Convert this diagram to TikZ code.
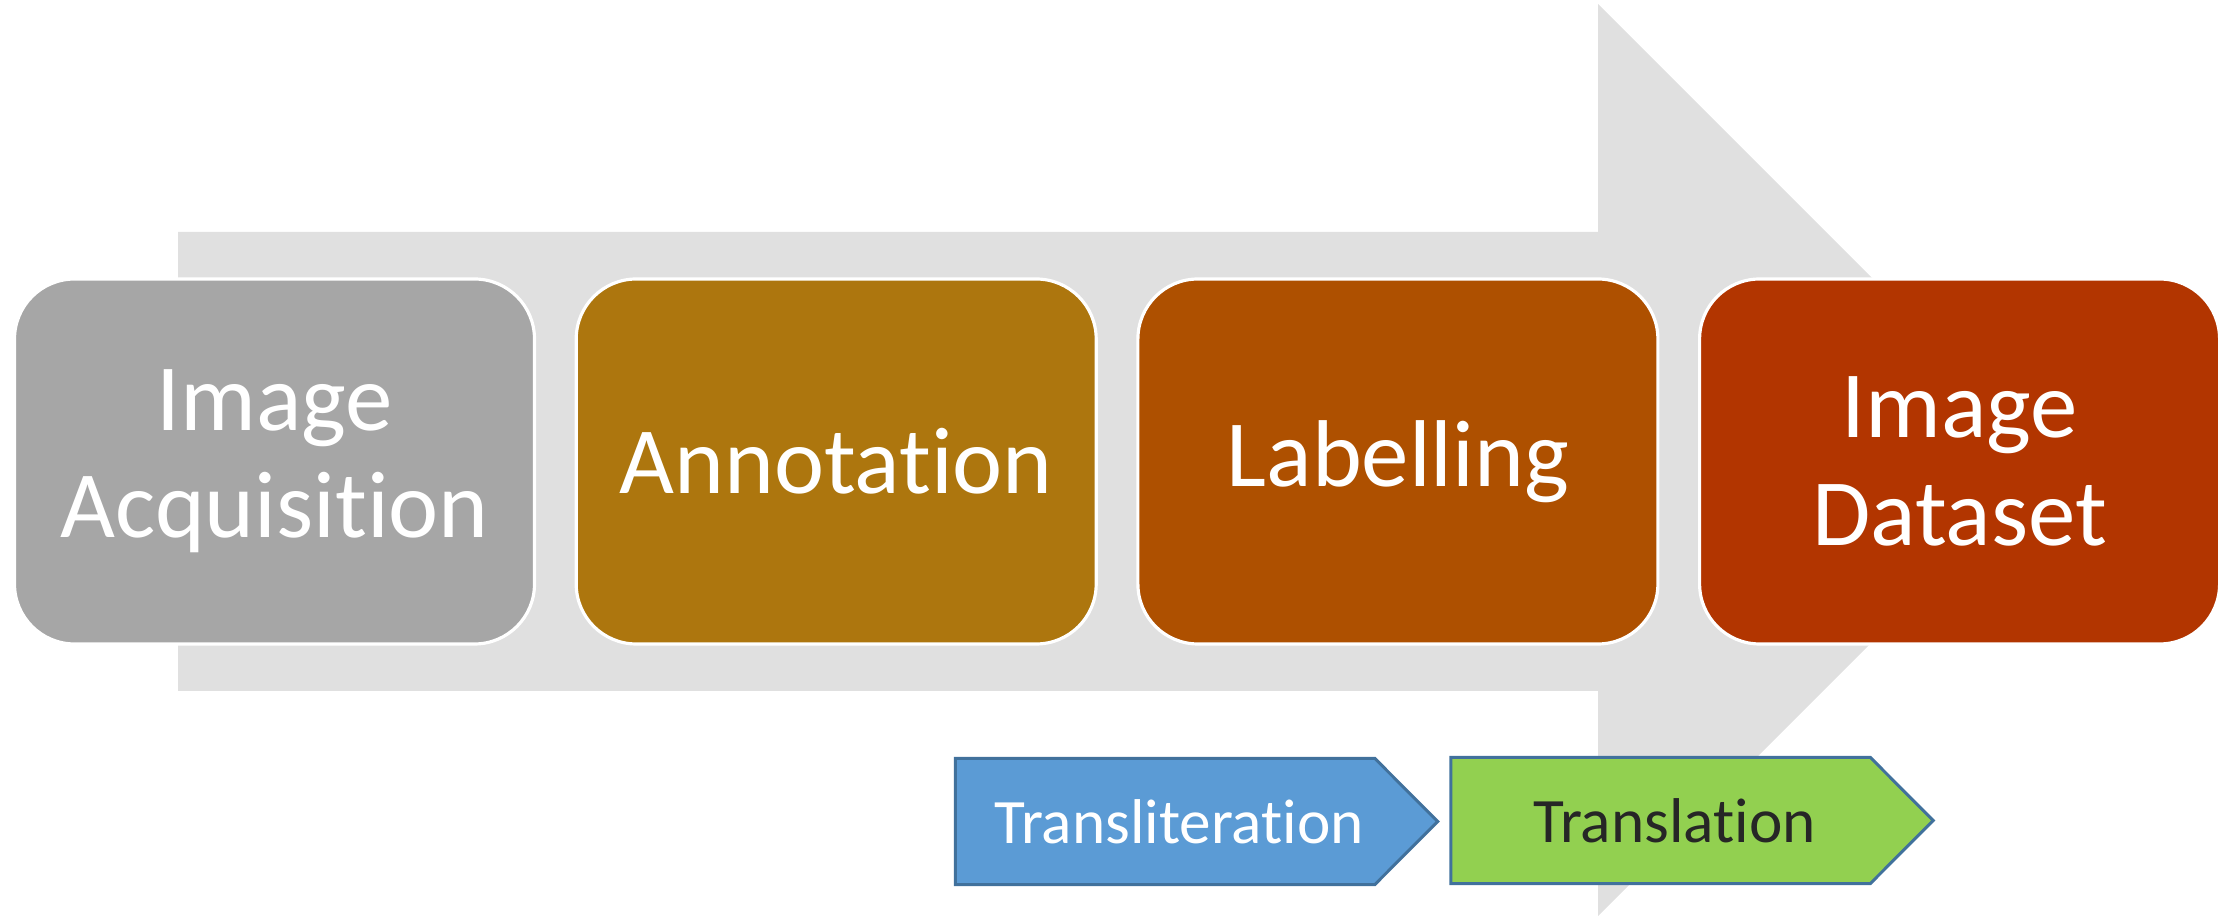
\documentclass[tikz,border=0pt]{standalone}
\usepackage{fontspec}
\setmainfont[Ligatures=NoCommon]{Carlito}
\usetikzlibrary{positioning,backgrounds,calc}

\definecolor{shaftgray}{RGB}{224,224,224}
\definecolor{stepA}{RGB}{166,166,166}
\definecolor{stepB}{RGB}{173,118,14}
\definecolor{stepC}{RGB}{174,80,0}
\definecolor{stepD}{RGB}{178,53,0}
\definecolor{tagblue}{RGB}{91,155,213}
\definecolor{taggreen}{RGB}{146,208,80}
\definecolor{tagedge}{RGB}{65,113,156}

\tikzset{
	stage/.style={rounded corners=0.6cm, draw=white, line width=0.9pt, text=white,
		minimum width=5.2cm, minimum height=3.65cm, align=center,
		font=\fontsize{27}{30.5}\selectfont},
	tag/.style={minimum width=4.18cm, minimum height=1.25cm, inner sep=0pt,
		font=\fontsize{18}{21}\selectfont, execute at begin node=\hspace*{0.28cm}}
}

\begin{document}
\begin{tikzpicture}
	\useasboundingbox (0,0) rectangle (22.33,-9.16);
	
	\foreach [count=\i] \c/\t in {stepA/Image\\Acquisition, stepB/Annotation, stepC/Labelling, stepD/Image\\Dataset}{
		\node [stage, fill=\c] (s\i) at ({2.745 + (\i-1)*5.617},-4.615) {\t};
	}
	
	\node [tag, text=white] (translit) at (11.65,-8.215) {Transliteration};
	\node [tag, text=black!85] (transl) at (16.605,-8.205) {Translation};
	
	\begin{scope}[on background layer]
		% big background arrow
		\fill [shaftgray] (1.78,-2.32) -- (15.98,-2.32) -- (15.98,-0.04) -- (20.54,-4.60)
			-- (15.98,-9.16) -- (15.98,-6.91) -- (1.78,-6.91) -- cycle;
		\foreach \n/\c in {translit/tagblue, transl/taggreen}{
			\draw [fill=\c, draw=tagedge, line width=0.85pt] (\n.north west) -- (\n.north east)
				-- ($(\n.east)+(0.63,0)$) -- (\n.south east) -- (\n.south west) -- cycle;
		}
	\end{scope}
	
\end{tikzpicture}
\end{document}
